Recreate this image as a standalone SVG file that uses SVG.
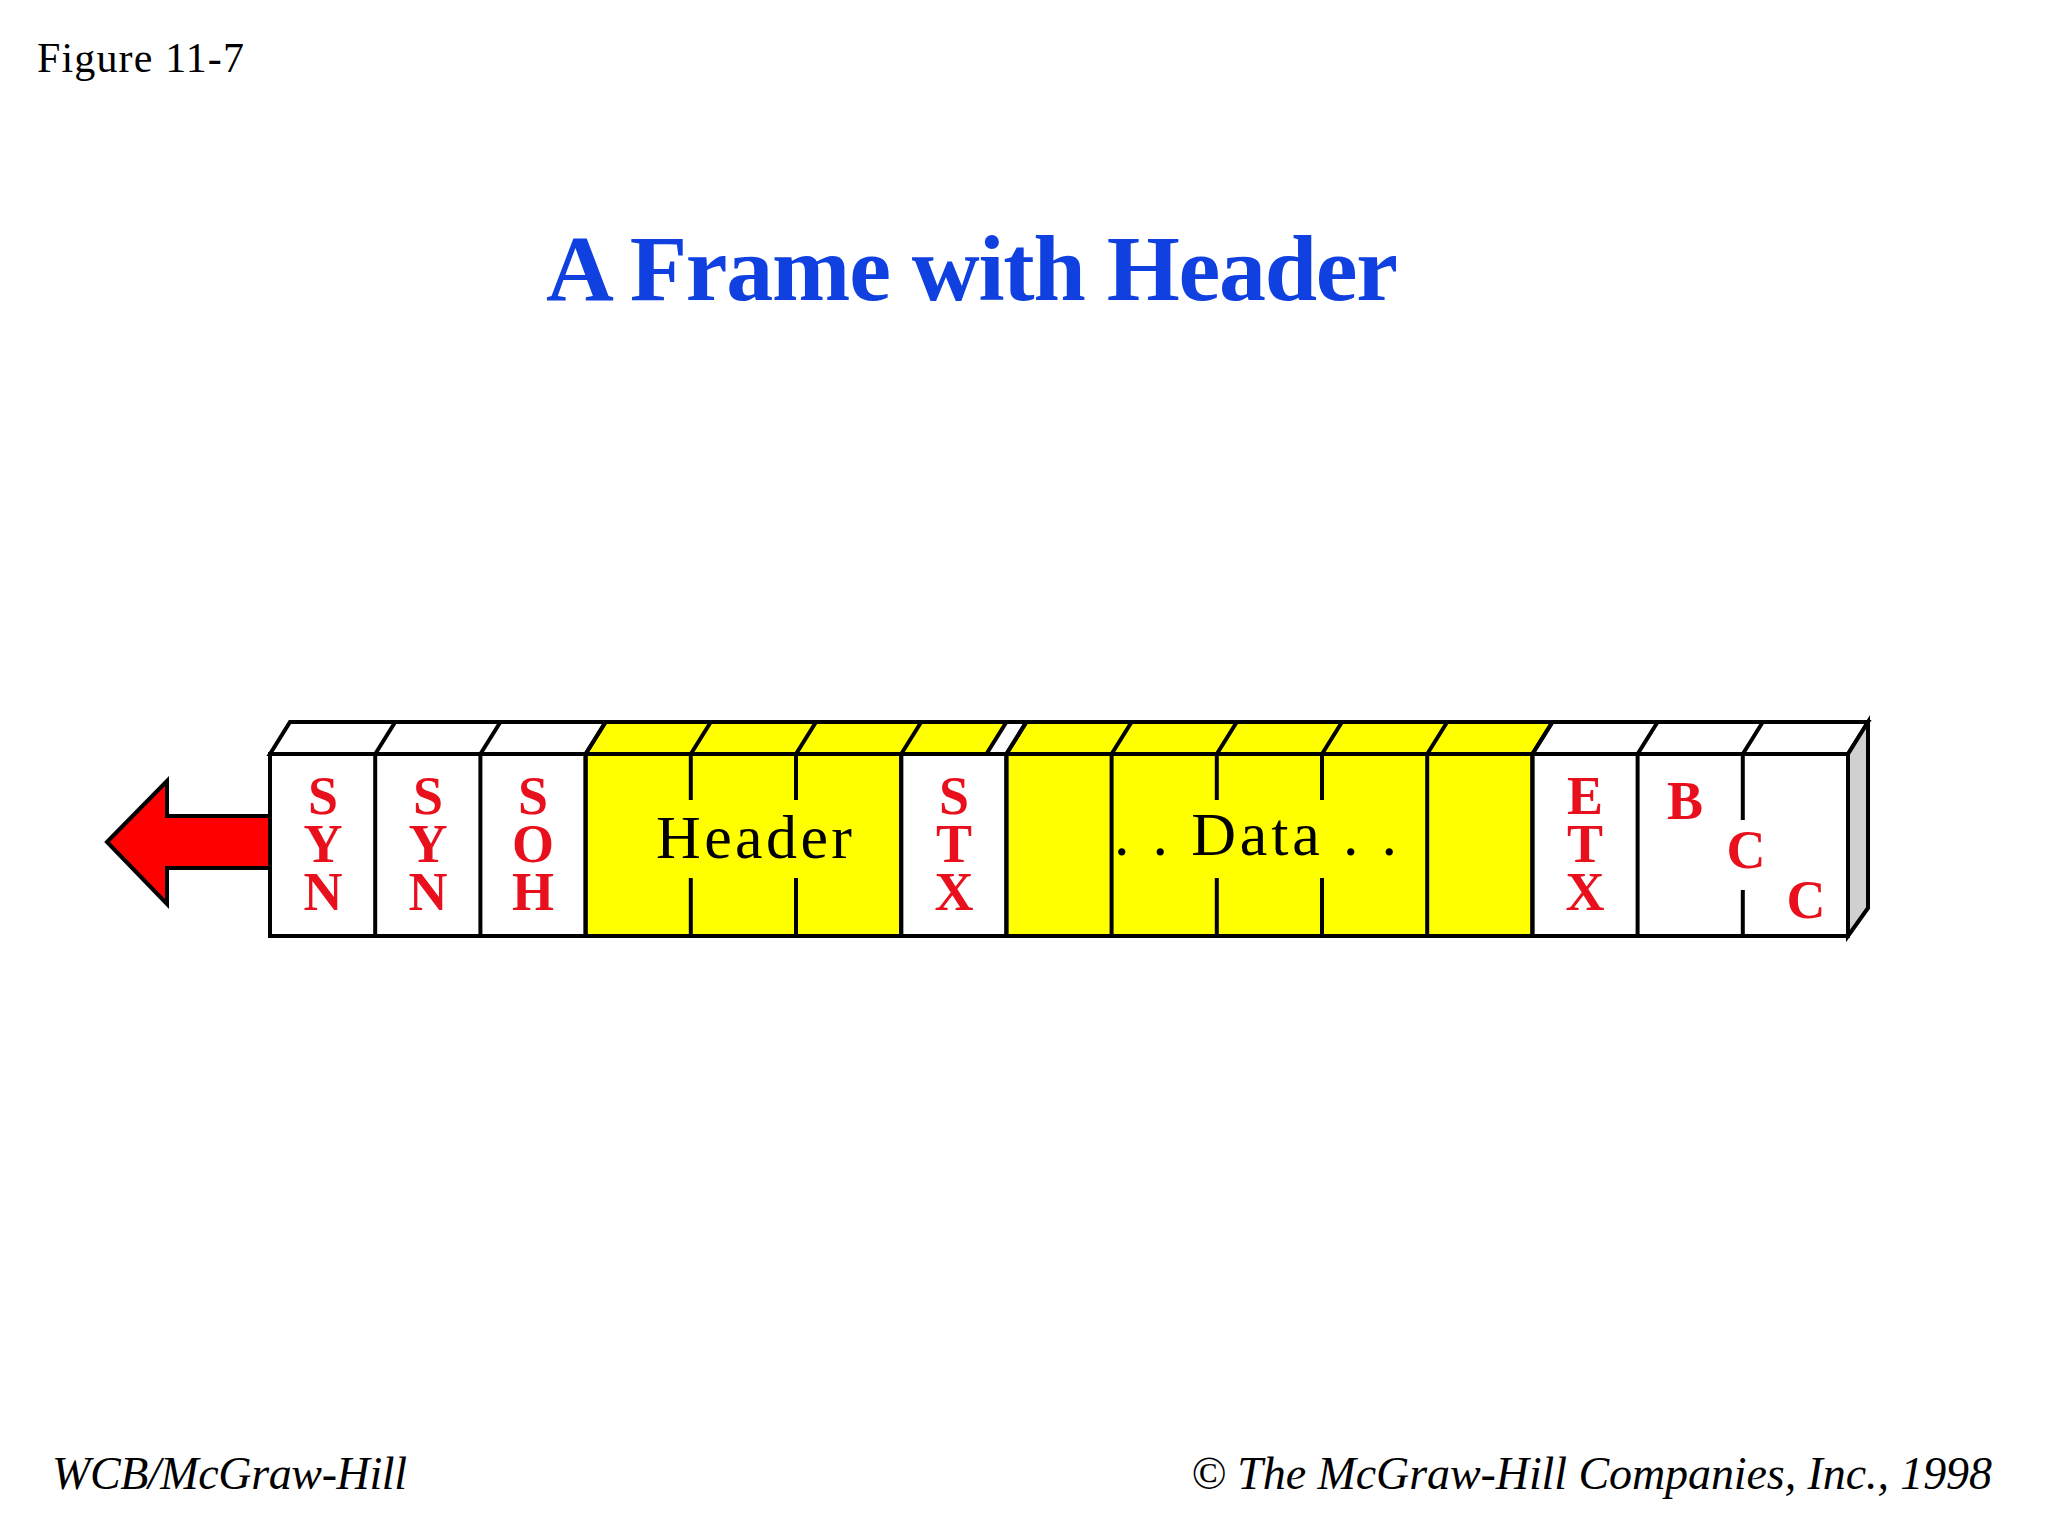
<svg xmlns="http://www.w3.org/2000/svg" width="2048" height="1536" viewBox="0 0 2048 1536">
<style>
.w{fill:#fff;stroke:#000;stroke-width:4}
.y{fill:#ffff00;stroke:#000;stroke-width:4}
.l{stroke:#000;stroke-width:4;fill:none}
.r{font-family:"Liberation Serif",serif;font-weight:bold;font-size:54px;fill:#e8101c;text-anchor:middle}
.b{font-family:"Liberation Serif",serif;font-size:62px;fill:#000}
.f{font-family:"Liberation Serif",serif;font-style:italic;font-size:46px;fill:#000}
</style>
<rect width="2048" height="1536" fill="#fff"/>
<text x="37" y="72" font-family="Liberation Serif,serif" font-size="42" textLength="207">Figure 11-7</text>
<text x="546" y="300" font-family="Liberation Serif,serif" font-weight="bold" font-size="94" fill="#1040e0" textLength="852">A Frame with Header</text>
<g id="arrow"><polygon points="107,842 167,781 167,816 270,816 270,868 167,868 167,904" fill="#ff0000" stroke="#000" stroke-width="4"/></g>
<g id="frame">
<polygon points="270,754 290,722 1868,722 1848,754" class="w"/>
<polygon points="585.6,754 605.6,722 1006.4,722 986.4,754" class="y"/>
<polygon points="1006.4,754 1026.4,722 1552.4,722 1532.4,754" class="y"/>
<polygon points="1848,754 1868,722 1868,908 1848,936" fill="#d0d0d0" stroke="#000" stroke-width="4"/>
<rect x="270" y="754" width="1578" height="182" class="w"/>
<rect x="585.6" y="754" width="315.6" height="182" class="y"/>
<rect x="1006.4" y="754" width="526" height="182" class="y"/>
<g class="l">
<path d="M375.2,754V936M480.4,754V936M585.6,754V936M901.2,754V936M1006.4,754V936M1111.6,754V936M1427.2,754V936M1532.4,754V936M1637.6,754V936"/>
<path d="M690.8,754V800M690.8,878V936M796,754V800M796,878V936M1216.8,754V800M1216.8,878V936M1322,754V800M1322,878V936M1742.8,754V820M1742.8,890V936"/>
<path d="M375.2,754l20,-32M480.4,754l20,-32M585.6,754l20,-32M690.8,754l20,-32M796,754l20,-32M901.2,754l20,-32M1006.4,754l20,-32M1111.6,754l20,-32M1216.8,754l20,-32M1322,754l20,-32M1427.2,754l20,-32M1532.4,754l20,-32M1637.6,754l20,-32M1742.8,754l20,-32"/>
</g>
</g>
<g id="labels">
<text class="r" x="323" y="814">S</text><text class="r" x="323" y="862">Y</text><text class="r" x="323" y="910">N</text>
<text class="r" x="428" y="814">S</text><text class="r" x="428" y="862">Y</text><text class="r" x="428" y="910">N</text>
<text class="r" x="533" y="814">S</text><text class="r" x="533" y="862">O</text><text class="r" x="533" y="910">H</text>
<text class="r" x="954" y="814">S</text><text class="r" x="954" y="862">T</text><text class="r" x="954" y="910">X</text>
<text class="r" x="1585" y="814">E</text><text class="r" x="1585" y="862">T</text><text class="r" x="1585" y="910">X</text>
<text class="r" x="1685" y="819">B</text><text class="r" x="1746" y="868">C</text><text class="r" x="1806" y="918">C</text>
<text class="b" x="656" y="858" textLength="196">Header</text>
<text class="b" x="1114" y="855" textLength="283">. . Data . .</text>
</g>
<text class="f" x="52" y="1489" textLength="355">WCB/McGraw-Hill</text>
<text class="f" x="1191" y="1489" textLength="801">© The McGraw-Hill Companies, Inc., 1998</text>
</svg>
